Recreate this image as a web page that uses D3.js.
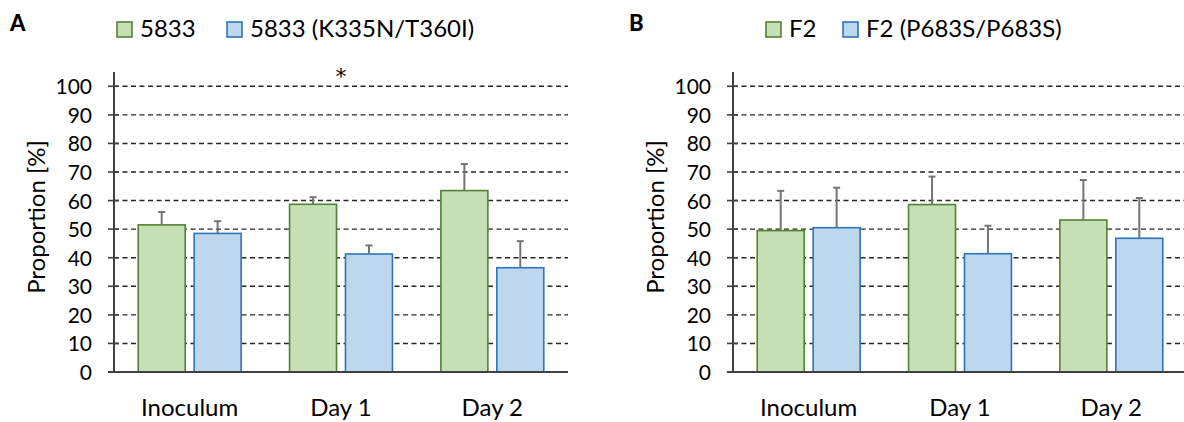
<!DOCTYPE html>
<html>
<head>
<meta charset="utf-8">
<script src="https://cdn.jsdelivr.net/npm/d3@7"></script>
<style>
  html, body { margin: 0; padding: 0; background: #fff; }
  svg { display: block; font-family: Lato, "Open Sans", sans-serif; }
</style>
</head>
<body>
<svg id="chart" width="1184" height="422"></svg>
<script>
// Time points shared by both panels
const categories = ["Inoculum", "Day 1", "Day 2"];
const yTicks = [0, 10, 20, 30, 40, 50, 60, 70, 80, 90, 100];

// Panel A: strain 5833 vs. its K335N/T360I mutant (mean proportion, % and SD)
const seriesA = ["5833", "5833 (K335N/T360I)"];
const wildA = [51.5, 58.7, 63.5];
const wildErrA = [4.5, 2.5, 9.3];
const mutA = [48.5, 41.3, 36.5];
const mutErrA = [4.3, 3.0, 9.3];
const starsA = ["", "*", ""];

// Panel B: F2 vs. F2 (P683S/P683S)
const seriesB = ["F2", "F2 (P683S/P683S)"];
const wildB = [49.5, 58.6, 53.2];
const wildErrB = [13.9, 9.8, 14.0];
const mutB = [50.5, 41.4, 46.8];
const mutErrB = [14.0, 9.8, 14.1];
const starsB = ["", "", ""];

const fills = ["#c5e0b4", "#bdd7ee"];
const strokes = ["#548235", "#2e75b6"];

const svg = d3.select("#chart");

function panel(opts) {
  const g = svg.append("g");
  const left = opts.axisX, right = opts.axisX + 454;
  const y = d3.scaleLinear().domain([0, 105]).range([372, 72]);
  const x = d3.scaleBand().domain(categories).range([left, right])
    .paddingInner(0.32).paddingOuter(0.16);
  const xs = d3.scaleBand().domain([0, 1]).range([0, x.bandwidth()])
    .paddingInner(0.16).paddingOuter(0);

  // dashed horizontal gridlines
  g.append("g").selectAll("line").data(yTicks.filter(t => t > 0)).join("line")
    .attr("x1", left).attr("x2", right)
    .attr("y1", d => y(d)).attr("y2", d => y(d))
    .attr("stroke", "#262626").attr("stroke-width", 1.4)
    .attr("stroke-dasharray", "5,3.5");

  // y axis with crossing ticks
  const yAxis = d3.axisLeft(y).tickValues(yTicks).tickSize(0).tickPadding(22);
  const ya = g.append("g").attr("transform", `translate(${left},0)`).call(yAxis);
  ya.select(".domain").remove();
  ya.selectAll("text").attr("font-size", 21).attr("fill", "#000")
    .attr("font-family", "Lato, sans-serif").attr("dy", "0.36em");
  g.append("g").selectAll("line").data(yTicks.filter(t => t > 0)).join("line")
    .attr("x1", left - 6).attr("x2", left + 5)
    .attr("y1", d => y(d)).attr("y2", d => y(d))
    .attr("stroke", "#404040").attr("stroke-width", 1.6);
  g.append("line").attr("x1", left).attr("x2", left)
    .attr("y1", y(0)).attr("y2", y(105))
    .attr("stroke", "#404040").attr("stroke-width", 2);

  // bars
  const rows = categories.map((c, i) => [
    { c, s: 0, v: opts.wild[i], e: opts.wildErr[i] },
    { c, s: 1, v: opts.mut[i], e: opts.mutErr[i] }
  ]).flat();
  g.append("g").selectAll("rect").data(rows).join("rect")
    .attr("x", d => x(d.c) + xs(d.s))
    .attr("width", xs.bandwidth())
    .attr("y", d => y(d.v))
    .attr("height", d => y(0) - y(d.v))
    .attr("fill", d => fills[d.s])
    .attr("stroke", d => strokes[d.s]).attr("stroke-width", 1.6);

  // upper error bars
  const eb = g.append("g").attr("stroke", "#757575").attr("stroke-width", 2);
  eb.selectAll("line.v").data(rows).join("line").attr("class", "v")
    .attr("x1", d => x(d.c) + xs(d.s) + xs.bandwidth() / 2)
    .attr("x2", d => x(d.c) + xs(d.s) + xs.bandwidth() / 2)
    .attr("y1", d => y(d.v)).attr("y2", d => y(d.v + d.e));
  eb.selectAll("line.cap").data(rows).join("line").attr("class", "cap")
    .attr("x1", d => x(d.c) + xs(d.s) + xs.bandwidth() / 2 - 3.5)
    .attr("x2", d => x(d.c) + xs(d.s) + xs.bandwidth() / 2 + 3.5)
    .attr("y1", d => y(d.v + d.e)).attr("y2", d => y(d.v + d.e));

  // x axis baseline
  g.append("line").attr("x1", left - 6).attr("x2", right)
    .attr("y1", y(0)).attr("y2", y(0))
    .attr("stroke", "#404040").attr("stroke-width", 2);

  // category labels
  g.append("g").selectAll("text").data(categories).join("text")
    .attr("x", d => x(d) + x.bandwidth() / 2).attr("y", 416)
    .attr("text-anchor", "middle").attr("font-size", 24).attr("fill", "#000")
    .text(d => d);

  // significance marks
  g.append("g").selectAll("text").data(categories).join("text")
    .attr("x", d => x(d) + x.bandwidth() / 2).attr("y", 84)
    .attr("text-anchor", "middle").attr("font-size", 22)
    .attr("font-family", "'DejaVu Sans', sans-serif").attr("fill", "#000")
    .text((d, i) => opts.stars[i]);

  // y axis title
  g.append("text")
    .attr("transform", `translate(${left - 69},217) rotate(-90)`)
    .attr("text-anchor", "middle").attr("font-size", 24).attr("fill", "#000")
    .text("Proportion [%]");

  // panel letter
  g.append("text").attr("x", opts.letterX).attr("y", 31)
    .attr("font-size", 22).attr("font-weight", 900).attr("fill", "#000")
    .text(opts.letter);

  // legend
  opts.series.forEach((name, i) => {
    const lx = opts.legendX[i];
    g.append("rect").attr("x", lx).attr("y", 22).attr("width", 15).attr("height", 15)
      .attr("fill", fills[i]).attr("stroke", strokes[i]).attr("stroke-width", 1.6);
    g.append("text").attr("x", lx + 23).attr("y", 37)
      .attr("font-size", 24).attr("fill", "#000").text(name);
  });
}

panel({ axisX: 114, letter: "A", letterX: 10, series: seriesA, legendX: [117, 227],
  wild: wildA, wildErr: wildErrA, mut: mutA, mutErr: mutErrA, stars: starsA });
panel({ axisX: 733, letter: "B", letterX: 629, series: seriesB, legendX: [766, 843],
  wild: wildB, wildErr: wildErrB, mut: mutB, mutErr: mutErrB, stars: starsB });
</script>
</body>
</html>
